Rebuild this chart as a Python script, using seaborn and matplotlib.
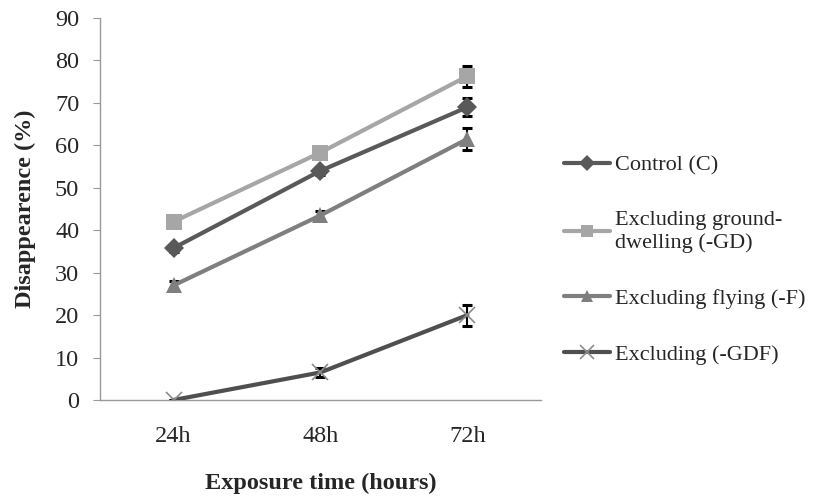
import pandas as pd
import numpy as np
import seaborn as sns
import matplotlib.pyplot as plt

# data
times = ["24h", "48h", "72h"]
control = [35.8, 54.0, 69.0]
control_err = [1.0, 1.0, 2.2]
ground = [42.0, 58.3, 76.3]
ground_err = [0.0, 0.8, 2.5]
flying = [27.0, 43.5, 61.5]
flying_err = [1.0, 1.0, 2.5]
both = [0.0, 6.5, 20.0]
both_err = [0.0, 1.0, 2.5]

labels = ["Control (C)", "Excluding ground-\ndwelling (-GD)",
          "Excluding flying (-F)", "Excluding (-GDF)"]
colors = ["#595959", "#a6a6a6", "#7f7f7f", "#4f4f4f"]
markers = ["D", "s", "^", "x"]

sns.set_style("white")
plt.rcParams['font.family'] = ['Liberation Serif', 'DejaVu Serif']

series = [control, ground, flying, both]
errors = [control_err, ground_err, flying_err, both_err]

fig = plt.figure(figsize=(8.27, 5), dpi=100)
ax = fig.add_axes([0.121, 0.2, 0.533, 0.764])

xpos = np.arange(len(times))
for lab, vals, errs, c, m in zip(labels, series, errors, colors, markers):
    d = pd.DataFrame({"time": times, "value": vals})
    if m == "x":
        kw = dict(markersize=12, markeredgewidth=1.2, markeredgecolor="#8c8c8c")
    else:
        kw = dict(markersize=11.5 if m != "D" else 10, markeredgewidth=0)
    sns.lineplot(data=d, x="time", y="value", color=c, marker=m,
                 linewidth=3, label=lab, ax=ax, zorder=3, **kw)
    # error bars sit behind the markers
    ax.errorbar(xpos, vals, yerr=errs, fmt="none", ecolor="black",
                elinewidth=1.5, capsize=3.5, capthick=2.2, zorder=2)

ax.set_xlim(-0.5, 2.5)
ax.set_ylim(0, 90)
ax.set_yticks(range(0, 91, 10))
ax.set_xlabel("Exposure time (hours)", fontsize=17.5, fontweight="bold", labelpad=18)
ax.set_ylabel("Disappearence (%)", fontsize=17.5, fontweight="bold", labelpad=14)
ax.tick_params(axis="y", labelsize=17.5, length=5, color="#999999", left=True, pad=10)
ax.tick_params(axis="x", labelsize=17.5, length=0, pad=19)
sns.despine(ax=ax)
for s in ["left", "bottom"]:
    ax.spines[s].set_color("#999999")
    ax.spines[s].set_linewidth(1)

leg = ax.legend(loc="center left", bbox_to_anchor=(0.668, 0.48),
                bbox_transform=fig.transFigure, borderpad=0,
                frameon=False, fontsize=16, labelspacing=1.6, handlelength=2.1,
                handletextpad=0.2, markerscale=0.8)

plt.savefig("out.png", dpi=100)
